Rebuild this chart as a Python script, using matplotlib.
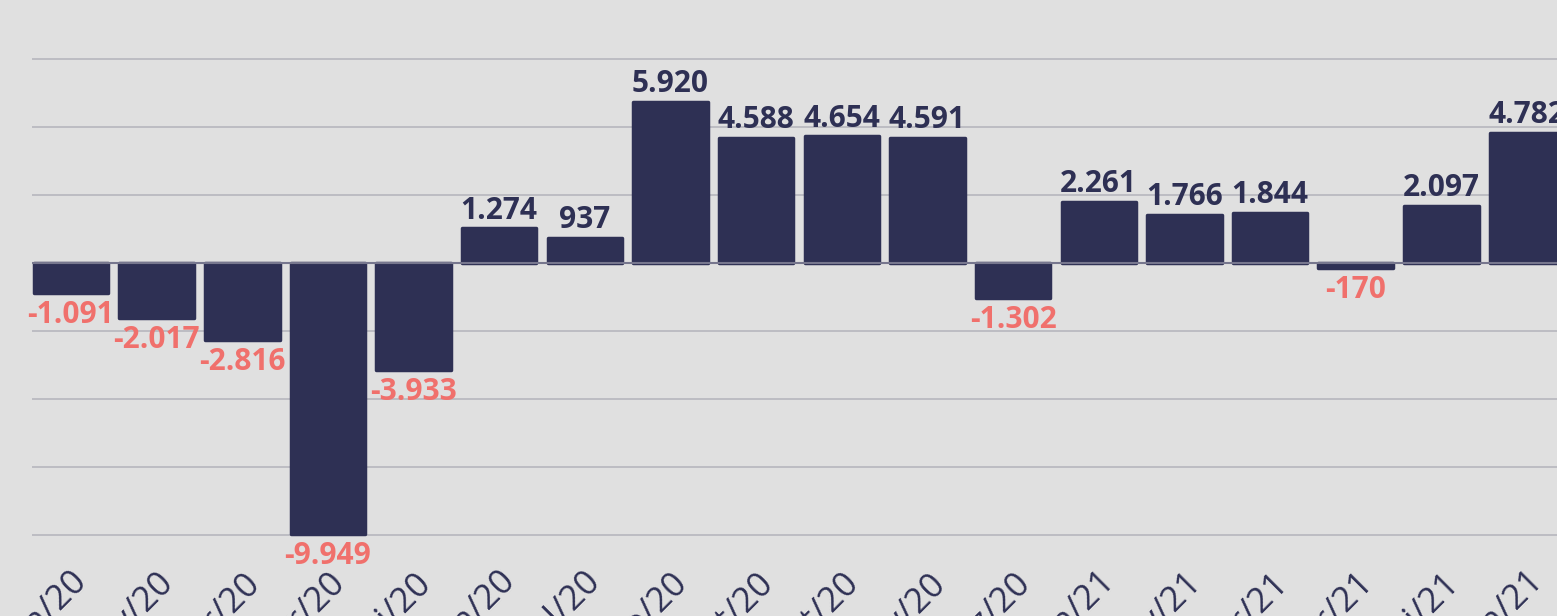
import matplotlib
matplotlib.use('Agg')
import matplotlib.pyplot as plt
import matplotlib.transforms as mtransforms

# monthly values
months = ['jan/20', 'fev/20', 'mar/20', 'abr/20', 'mai/20', 'jun/20', 'jul/20', 'ago/20',
          'set/20', 'out/20', 'nov/20', 'dez/20', 'jan/21', 'fev/21', 'mar/21', 'abr/21',
          'mai/21', 'jun/21']
values = [-1091, -2017, -2816, -9949, -3933, 1274, 937, 5920, 4588, 4654, 4591, -1302,
          2261, 1766, 1844, -170, 2097, 4782]
grid_vals = [-10000, -7500, -5000, -2500, 2500, 5000, 7500]

bg = '#e0e0e0'
navy = '#2e3054'
red = '#f0706c'

W, H = 1557, 616
fig = plt.figure(figsize=(W / 100, H / 100), dpi=100, facecolor=bg)
# axes spans from left grid start to right edge, bottom just under the -10000 line
ax = fig.add_axes([32 / W, (H - 545) / H, (W - 32) / W, 545 / H])
ax.set_facecolor(bg)

px_per_unit = 27.2 / 1000  # pixels per value unit
ax.set_ylim(-(545 - 263) / px_per_unit, 263 / px_per_unit)
ax.set_xlim(-0.455, (W - 71) / 85.65)

for g in grid_vals:
    ax.axhline(g, color='#b6b6be', lw=1.2, zorder=0)

x = list(range(len(values)))
bars = ax.bar(x, values, width=0.87, color=navy, edgecolor=navy, linewidth=2.5,
              joinstyle='round', zorder=2)
ax.axhline(0, color='#77778e', lw=1.5, zorder=3)

for xi, v in zip(x, values):
    lab = f'{abs(v):,}'.replace(',', '.')
    if v < 0:
        lab = '-' + lab
        ax.annotate(lab, (xi, v), xytext=(0, -5), textcoords='offset points',
                    ha='center', va='top', color=red, fontsize=21.5,
                    fontweight='bold', family='Open Sans', zorder=4)
    else:
        ax.annotate(lab, (xi, v), xytext=(0, 7), textcoords='offset points',
                    ha='center', va='baseline', color=navy, fontsize=21.5,
                    fontweight='bold', family='Open Sans', zorder=4)

ax.set_yticks([])
ax.set_xticks(x)
ax.set_xticklabels(months, rotation=45, ha='right', rotation_mode='anchor',
                   fontsize=25, family='Open Sans', color=navy)
offset = mtransforms.ScaledTranslation(39 / 100, 0, fig.dpi_scale_trans)
for t in ax.get_xticklabels():
    t.set_transform(t.get_transform() + offset)
ax.tick_params(axis='x', length=0, pad=15)
for s in ax.spines.values():
    s.set_visible(False)

fig.savefig('out.png', dpi=100, facecolor=bg)
